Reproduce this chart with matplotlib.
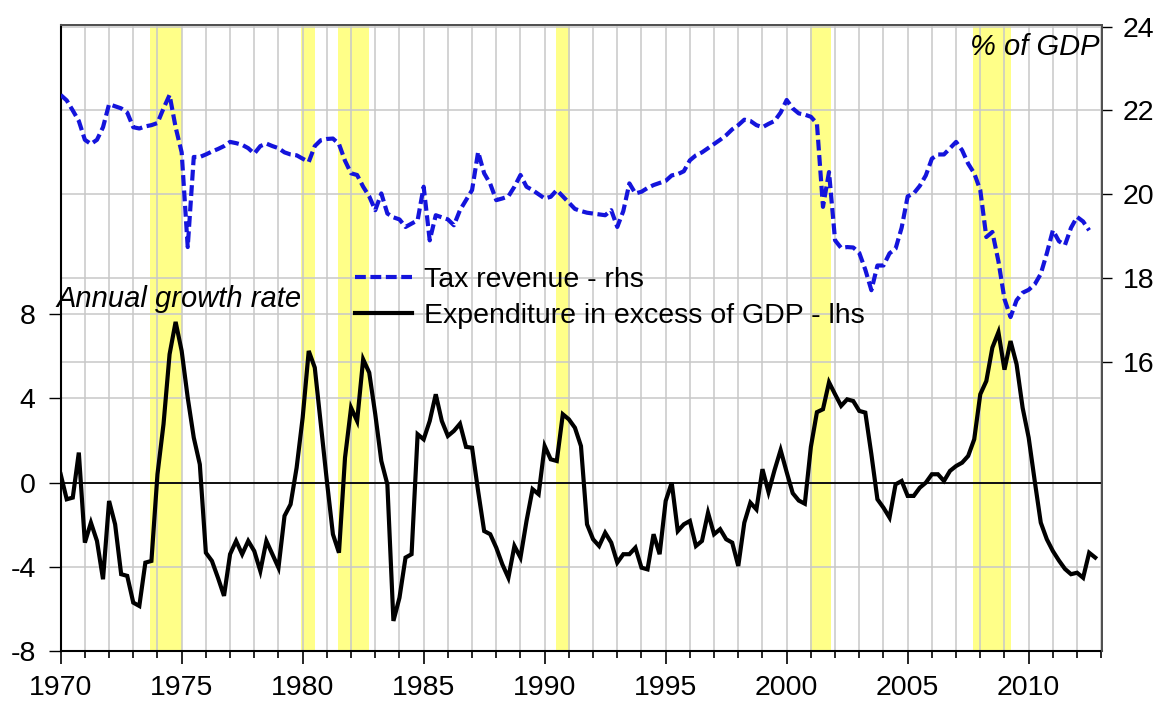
import numpy as np
import matplotlib
matplotlib.use('Agg')
import matplotlib.pyplot as plt
from matplotlib.ticker import MultipleLocator, FixedLocator
from matplotlib.transforms import blended_transform_factory

# ---------------- data (quarterly, starting 1970Q1) ----------------
start_year = 1970

tax_revenue = [
    22.37, 22.24, 22.0, 21.75,    # 1970
    21.3, 21.2, 21.3, 21.6,       # 1971
    22.15, 22.1, 22.05, 21.95,    # 1972
    21.6, 21.57, 21.62, 21.65,    # 1973
    21.7, 22.05, 22.37, 21.6,     # 1974
    21.0, 18.74, 20.89, 20.89,    # 1975
    20.95, 21.02, 21.08, 21.15,   # 1976
    21.25, 21.22, 21.18, 21.1,    # 1977
    20.97, 21.15, 21.21, 21.15,   # 1978
    21.1, 21.0, 20.95, 20.93,     # 1979
    20.85, 20.77, 21.15, 21.29,   # 1980
    21.32, 21.33, 21.2, 20.8,     # 1981
    20.5, 20.46, 20.18, 19.95,    # 1982
    19.62, 20.02, 19.54, 19.45,   # 1983
    19.4, 19.22, 19.3, 19.38,     # 1984
    20.18, 18.9, 19.5, 19.45,     # 1985
    19.4, 19.26, 19.62, 19.86,    # 1986
    20.1, 21.01, 20.5, 20.25,     # 1987
    19.86, 19.9, 19.95, 20.18,    # 1988
    20.46, 20.18, 20.1, 20.0,     # 1989
    19.9, 19.94, 20.1, 19.95,     # 1990
    19.8, 19.65, 19.6, 19.56,     # 1991
    19.54, 19.52, 19.5, 19.62,    # 1992
    19.22, 19.6, 20.26, 20.02,    # 1993
    20.06, 20.15, 20.22, 20.27,   # 1994
    20.32, 20.45, 20.48, 20.55,   # 1995
    20.81, 20.93, 21.0, 21.1,     # 1996
    21.2, 21.3, 21.41, 21.55,     # 1997
    21.65, 21.78, 21.75, 21.65,   # 1998
    21.6, 21.68, 21.75, 21.95,    # 1999
    22.25, 22.05, 21.93, 21.9,    # 2000
    21.85, 21.69, 19.7, 20.53,    # 2001
    18.9, 18.72, 18.74, 18.73,    # 2002
    18.6, 18.2, 17.71, 18.3,      # 2003
    18.3, 18.59, 18.7, 19.2,      # 2004
    19.95, 20.02, 20.2, 20.45,    # 2005
    20.85, 20.95, 20.95, 21.1,    # 2006
    21.25, 21.05, 20.73, 20.5,    # 2007
    20.1, 18.98, 19.1, 18.4,      # 2008
    17.5, 17.07, 17.47, 17.65,    # 2009
    17.72, 17.85, 18.1, 18.59,    # 2010
    19.14, 18.88, 18.79, 19.2,    # 2011
    19.46, 19.35, 19.14,          # 2012
]

exp_growth = [
    0.4, -0.79, -0.71, 1.43,      # 1970
    -2.85, -1.9, -2.77, -4.59,    # 1971
    -0.87, -1.98, -4.35, -4.43,   # 1972
    -5.7, -5.86, -3.8, -3.72,     # 1973
    0.4, 2.78, 6.1, 7.64,         # 1974
    6.26, 4.04, 2.14, 0.87,       # 1975
    -3.33, -3.72, -4.52, -5.38,   # 1976
    -3.4, -2.77, -3.4, -2.77,     # 1977
    -3.25, -4.2, -2.77, -3.4,     # 1978
    -4.04, -1.58, -1.03, 0.71,    # 1979
    3.09, 6.26, 5.47, 2.78,       # 1980
    0.08, -2.45, -3.33, 1.19,     # 1981
    3.56, 2.93, 5.86, 5.23,       # 1982
    3.25, 1.03, -0.08, -6.57,     # 1983
    -5.47, -3.56, -3.4, 2.3,      # 1984
    2.06, 2.93, 4.2, 2.93,        # 1985
    2.22, 2.46, 2.8, 1.7,         # 1986
    1.66, -0.4, -2.3, -2.45,      # 1987
    -3.09, -3.88, -4.52, -3.01,   # 1988
    -3.56, -1.82, -0.31, -0.55,   # 1989
    1.74, 1.11, 1.03, 3.25,       # 1990
    3.01, 2.61, 1.74, -1.98,      # 1991
    -2.69, -3.01, -2.38, -2.85,   # 1992
    -3.8, -3.4, -3.4, -3.09,      # 1993
    -4.04, -4.12, -2.45, -3.4,    # 1994
    -0.87, 0.0, -2.3, -1.98,      # 1995
    -1.82, -3.01, -2.77, -1.43,   # 1996
    -2.45, -2.21, -2.69, -2.85,   # 1997
    -3.96, -1.9, -0.95, -1.27,    # 1998
    0.64, -0.45, 0.6, 1.55,       # 1999
    0.5, -0.5, -0.85, -1.0,       # 2000
    1.7, 3.35, 3.49, 4.77,        # 2001
    4.2, 3.65, 3.96, 3.88,        # 2002
    3.41, 3.33, 1.35, -0.79,      # 2003
    -1.19, -1.66, -0.08, 0.08,    # 2004
    -0.63, -0.63, -0.24, 0.0,     # 2005
    0.4, 0.4, 0.08, 0.56,         # 2006
    0.79, 0.95, 1.27, 2.06,       # 2007
    4.2, 4.83, 6.42, 7.15,        # 2008
    5.37, 6.73, 5.63, 3.56,       # 2009
    2.14, 0.08, -1.9, -2.69,      # 2010
    -3.25, -3.7, -4.1, -4.35,     # 2011
    -4.28, -4.52, -3.33, -3.56,   # 2012
]

rec_start = [1973.7, 1979.95, 1981.45, 1990.45, 2000.95, 2007.7]
rec_end = [1975.0, 1980.5, 1982.75, 1991.05, 2001.85, 2009.25]

left_ticks = [-8, -4, 0, 4, 8]
right_ticks = [16, 18, 20, 22, 24]
year_ticks = [1970, 1975, 1980, 1985, 1990, 1995, 2000, 2005, 2010]

tax_label = 'Tax revenue - rhs'
exp_label = 'Expenditure in excess of GDP - lhs'

# ---------------- figure ----------------
plt.rcParams['font.family'] = ['Liberation Sans', 'DejaVu Sans']
plt.rcParams['axes.unicode_minus'] = False

x_tax = start_year + np.arange(len(tax_revenue)) / 4.0
x_exp = start_year + np.arange(len(exp_growth)) / 4.0

fig = plt.figure(figsize=(11.6, 7.06), dpi=100)
ax = fig.add_axes([0.0523, 0.0779, 0.8977, 0.8867])
ax2 = ax.twinx()

grid_c = '#c8c8c8'
yellow = '#ffff88'

ax.set_xlim(1970, 2013.03)
ax.set_ylim(-8, 21.75)
ax2.set_ylim(9.1, 24.04)

ax.set_axisbelow(True)
for s, e in zip(rec_start, rec_end):
    ax.axvspan(s, e, color=yellow, lw=0, zorder=0.2)

ax.xaxis.set_major_locator(FixedLocator(year_ticks))
ax.xaxis.set_minor_locator(MultipleLocator(1))
ax.grid(axis='x', which='both', color=grid_c, lw=1.1)
ax.set_yticks(left_ticks)
ax.grid(axis='y', which='major', color=grid_c, lw=1.1)

# right-axis horizontal gridlines drawn on the lower axes
tr = blended_transform_factory(ax.transAxes, ax2.transData)
for v in right_ticks:
    ax.plot([0, 1], [v, v], transform=tr, color=grid_c, lw=1.1, zorder=0.5)

ax.axhline(0, color='black', lw=1.3, zorder=1)

l_exp, = ax.plot(x_exp, exp_growth, color='black', lw=3.0, zorder=3,
                 solid_joinstyle='miter', label=exp_label)
l_tax, = ax2.plot(x_tax, tax_revenue, color='#1414dc', lw=3.0,
                  dashes=(2.6, 1.1), zorder=3, label=tax_label)

ax2.set_yticks(right_ticks)

# ticks
ax.tick_params(axis='x', which='major', direction='out', length=9.5, width=1.2,
               labelsize=20.5, pad=8, color='black')
ax.tick_params(axis='x', which='minor', direction='out', length=5, width=1.2,
               color='black')
ax.tick_params(axis='y', direction='out', length=9, width=1.0,
               labelsize=20.5, pad=9)
ax2.tick_params(axis='y', direction='out', length=7.2, width=1.0,
                labelsize=20.5, pad=8)
ax.set_xticklabels([str(y) for y in year_ticks])

for sp in ['left', 'bottom']:
    ax.spines[sp].set_color('black')
    ax.spines[sp].set_linewidth(1.5)
for a in (ax, ax2):
    a.spines['top'].set_color('#505050')
    a.spines['top'].set_linewidth(1.3)
    a.spines['right'].set_color('#505050')
    a.spines['right'].set_linewidth(1.3)
ax2.spines['left'].set_visible(False)
ax2.spines['bottom'].set_visible(False)

# annotations
ax.text(-0.0036, 0.5495, 'Annual growth rate', transform=ax.transAxes,
        fontsize=21, style='italic', ha='left', va='baseline', zorder=5)
ax.text(0.998, 0.952, '% of GDP', transform=ax.transAxes,
        fontsize=21, style='italic', ha='right', va='baseline', zorder=5)

leg = ax2.legend([l_tax, l_exp], [tax_label, exp_label],
                 loc='upper left', bbox_to_anchor=(0.2826, 0.614),
                 frameon=False, fontsize=20.5, handlelength=2.0,
                 handletextpad=0.42, labelspacing=0.38, borderpad=0,
                 borderaxespad=0)

fig.savefig('out.png', dpi=100)
